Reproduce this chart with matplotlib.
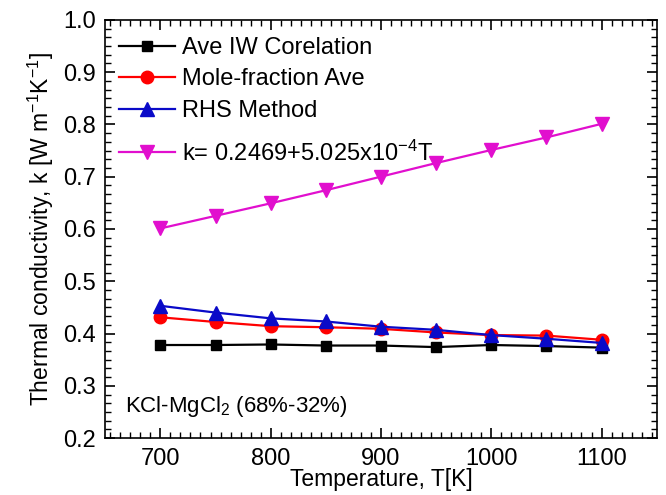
import matplotlib
matplotlib.use("Agg")
import matplotlib.pyplot as plt
from matplotlib.ticker import MultipleLocator, AutoMinorLocator

plt.rcParams['font.family'] = ['Liberation Sans', 'DejaVu Sans']
plt.rcParams['mathtext.fontset'] = 'custom'
plt.rcParams['mathtext.rm'] = 'Liberation Sans'
plt.rcParams['mathtext.it'] = 'Liberation Sans:italic'
plt.rcParams['mathtext.default'] = 'regular'

temperature = [700, 750, 800, 850, 900, 950, 1000, 1050, 1100]
ave_iw = [0.378, 0.378, 0.379, 0.377, 0.377, 0.374, 0.378, 0.376, 0.373]
mole_frac = [0.431, 0.422, 0.414, 0.412, 0.409, 0.402, 0.397, 0.396, 0.388]
rhs = [0.453, 0.440, 0.429, 0.423, 0.413, 0.407, 0.397, 0.390, 0.382]
fit_k = [0.601, 0.625, 0.649, 0.674, 0.700, 0.726, 0.751, 0.775, 0.801]

labels = ["Ave IW Corelation", "Mole-fraction Ave", "RHS Method",
          "k= 0.2469+5.025x10$^{-4}$T"]

fig = plt.figure(figsize=(6.66, 4.95), dpi=100)
ax = fig.add_axes([0.158, 0.115, 0.828, 0.845])

h1, = ax.plot(temperature, ave_iw, color='black', marker='s', ms=7.8, lw=1.6, label=labels[0])
h2, = ax.plot(temperature, mole_frac, color='#ff0000', marker='o', ms=9, lw=1.6, label=labels[1])
h3, = ax.plot(temperature, rhs, color='#0a0ac8', marker='^', ms=9.5, lw=1.6, label=labels[2])
h4, = ax.plot(temperature, fit_k, color='#e10fce', marker='v', ms=9.5, lw=1.6, label=labels[3])

ax.set_xlim(650, 1150)
ax.set_ylim(0.2, 1.0)
ax.xaxis.set_major_locator(MultipleLocator(100))
ax.xaxis.set_minor_locator(AutoMinorLocator(11))
ax.yaxis.set_major_locator(MultipleLocator(0.1))
ax.yaxis.set_minor_locator(AutoMinorLocator(6))
ax.tick_params(which='both', direction='in', top=True, right=True, labelsize=17)
ax.tick_params(which='major', length=7, width=1.2)
ax.tick_params(which='minor', length=4, width=1.0)
ax.tick_params(axis='x', pad=7)
ax.tick_params(axis='y', pad=7)
for s in ax.spines.values():
    s.set_linewidth(1.2)

ax.set_xlabel("Temperature, T[K]", fontsize=16.5, labelpad=-1)
ax.set_ylabel("Thermal conductivity, k [W m$^{-1}$K$^{-1}$]", fontsize=16.5, labelpad=5)

ax.text(0.035, 0.075, "KCl-MgCl$_2$ (68%-32%)", transform=ax.transAxes, fontsize=16,
        va='center', ha='left')

leg_kw = dict(frameon=False, fontsize=17, handlelength=2.35,
              handletextpad=0.3, labelspacing=0.4, borderaxespad=0.2)
leg1 = ax.legend(handles=[h1, h2, h3], loc='upper left',
                 bbox_to_anchor=(0.0, 0.993), **leg_kw)
ax.add_artist(leg1)
ax.legend(handles=[h4], loc='center left', bbox_to_anchor=(0.0, 0.682), **leg_kw)

fig.savefig("out.png", dpi=100)
